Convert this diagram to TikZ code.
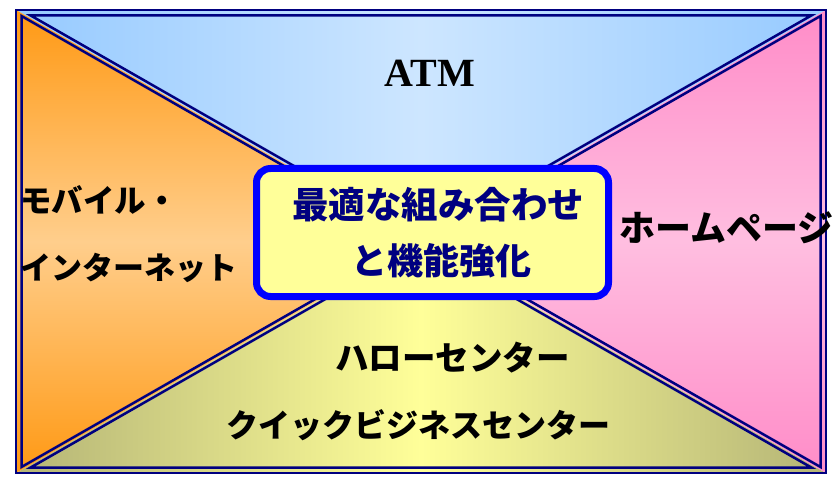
\documentclass[tikz,border=0pt]{standalone}
\usepackage{fontspec}
\setmainfont{Liberation Serif}
\newfontfamily\jp{Noto Sans CJK JP}
\definecolor{navy}{RGB}{0,0,128}
\definecolor{boxblue}{RGB}{0,0,255}
\definecolor{boxfill}{RGB}{255,255,153}
\definecolor{topc}{RGB}{150,202,255}
\definecolor{topm}{RGB}{205,230,255}
\definecolor{leftc}{RGB}{255,153,20}
\definecolor{leftm}{RGB}{255,206,140}
\definecolor{rightc}{RGB}{255,140,200}
\definecolor{rightm}{RGB}{255,190,224}
\definecolor{botc}{RGB}{180,180,118}
\definecolor{botm}{RGB}{255,255,153}
\begin{document}
\begin{tikzpicture}[x=1pt,y=1pt,
  edge/.style={draw=navy,line width=2.5pt,line join=miter},
  lbl/.style={font=\jp\bfseries\fontsize{32}{36}\selectfont, inner sep=0pt, text=black},
  ctr/.style={font=\jp\bfseries\fontsize{36.5}{40}\selectfont, inner sep=0pt, text=navy},
]
\useasboundingbox (0,0) rectangle (833,480);
\coordinate (TL) at (16,470);
\coordinate (TR) at (826,470);
\coordinate (BL) at (16,7);
\coordinate (BR) at (826,7);
\coordinate (O) at (421,238.5);
% filled triangles
\path[left color=topc, right color=topc, middle color=topm] (TL) -- (TR) -- (O) -- cycle;
\path[left color=botc, right color=botc, middle color=botm] (BL) -- (BR) -- (O) -- cycle;
\path[top color=leftc, bottom color=leftc, middle color=leftm] (TL) -- (BL) -- (O) -- cycle;
\path[top color=rightc, bottom color=rightc, middle color=rightm] (TR) -- (BR) -- (O) -- cycle;
% inset outlines
\draw[edge] (30.7,464.5) -- (811.3,464.5) -- (421,241.4) -- cycle;
\draw[edge] (30.7,12.5) -- (811.3,12.5) -- (421,235.6) -- cycle;
\draw[edge] (21.5,464) -- (21.5,13) -- (416,238.5) -- cycle;
\draw[edge] (820.5,464) -- (820.5,13) -- (426,238.5) -- cycle;
\draw[edge] (TL) rectangle (BR);
% labels
\node[font=\bfseries\fontsize{40}{44}\selectfont, inner sep=0pt] (atm) at (430,406.5) {ATM};
\node[lbl, anchor=west, font=\jp\bfseries\fontsize{31.5}{36}\selectfont] (mob) at (20,280) {モバイル・};
\node[lbl, anchor=west, font=\jp\bfseries\fontsize{31}{36}\selectfont] (inet) at (20,212) {インターネット};
\node[lbl, anchor=west, font=\jp\bfseries\fontsize{36}{40}\selectfont] (home) at (619,252) {ホームページ};
\node[lbl, anchor=west, font=\jp\bfseries\fontsize{33.5}{38}\selectfont] (hello) at (335,122) {ハローセンター};
\node[lbl, anchor=west] (quick) at (226,55) {クイックビジネスセンター};
% center box
\node[draw=boxblue, line width=7pt, fill=boxfill, rounded corners=14pt,
      minimum width=352pt, minimum height=128pt, inner sep=0pt] (box) at (432.5,247.5) {};
\node[ctr] (c1) at (438,275) {最適な組み合わせ};
\node[ctr, font=\jp\bfseries\fontsize{36}{40}\selectfont] (c2) at (441,219) {と機能強化};
\end{tikzpicture}
\end{document}
